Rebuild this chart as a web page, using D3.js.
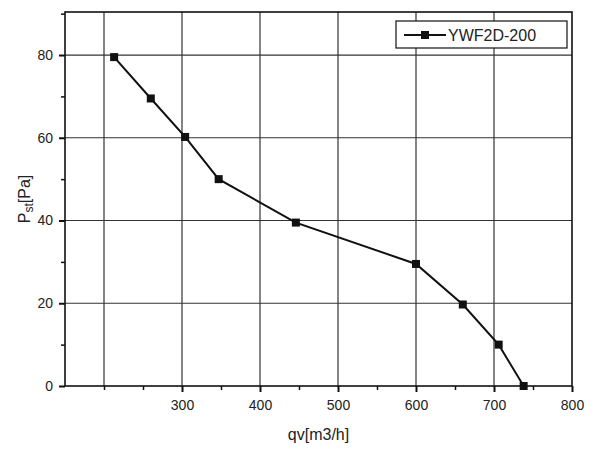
<!DOCTYPE html>
<html><head><meta charset="utf-8">
<script src="https://cdn.jsdelivr.net/npm/d3@7"></script>
<style>body{margin:0;background:#fff}text{font-family:Arial,"Liberation Sans",sans-serif;fill:#222}</style>
</head><body><svg id="c" width="598" height="450"></svg>
<script>
const qv = [213, 260, 304, 347, 446, 600, 660, 706, 738];
const pst = [79.5, 69.5, 60.2, 50, 39.5, 29.5, 19.7, 10, 0];
const xTicks = [300, 400, 500, 600, 700, 800];
const yTicks = [0, 20, 40, 60, 80];
const seriesName = "YWF2D-200";

const svg = d3.select("#c");
const L=65,R=572,T=12,B=386;
const x = d3.scaleLinear().domain([150,800]).range([L,R]);
const y = d3.scaleLinear().domain([0,90.4]).range([B,T]);

const gx=[200,300,400,500,600,700];
svg.selectAll(".gx").data(gx).enter().append("line")
 .attr("x1",d=>x(d)).attr("x2",d=>x(d)).attr("y1",T).attr("y2",B).attr("stroke","#333").attr("stroke-width",1.2);
svg.selectAll(".gy").data([20,40,60,80]).enter().append("line")
 .attr("x1",L).attr("x2",R).attr("y1",d=>y(d)).attr("y2",d=>y(d)).attr("stroke","#333").attr("stroke-width",1.2);

svg.append("rect").attr("x",L).attr("y",T).attr("width",R-L).attr("height",B-T)
 .attr("fill","none").attr("stroke","#111").attr("stroke-width",1.6);

const xa = svg.append("g").attr("transform",`translate(0,${B})`)
 .call(d3.axisBottom(x).tickValues(xTicks).tickSize(6).tickPadding(8).tickFormat(d3.format("d")));
xa.select(".domain").remove();
xa.selectAll("line").attr("stroke","#111").attr("stroke-width",2);
xa.selectAll("text").attr("font-size",14);
svg.append("g").attr("transform",`translate(0,${B})`)
 .call(d3.axisBottom(x).tickValues([200,250,350,450,550,650,750]).tickSize(4).tickFormat(""))
 .call(g=>{g.select(".domain").remove();g.selectAll("line").attr("stroke","#111").attr("stroke-width",1.5);});

const ya = svg.append("g").attr("transform",`translate(${L},0)`)
 .call(d3.axisLeft(y).tickValues(yTicks).tickSize(6).tickPadding(6).tickFormat(d3.format("d")));
ya.select(".domain").remove();
ya.selectAll("line").attr("stroke","#111").attr("stroke-width",2);
ya.selectAll("text").attr("font-size",14);
svg.append("g").attr("transform",`translate(${L},0)`)
 .call(d3.axisLeft(y).tickValues([10,30,50,70,90]).tickSize(4).tickFormat(""))
 .call(g=>{g.select(".domain").remove();g.selectAll("line").attr("stroke","#111").attr("stroke-width",1.5);});

svg.append("text").attr("x",(L+R)/2).attr("y",440).attr("text-anchor","middle").attr("font-size",16).text("qv[m3/h]");
const yl = svg.append("text").attr("transform",`translate(30,${(T+B)/2}) rotate(-90)`).attr("text-anchor","middle").attr("font-size",16);
yl.append("tspan").text("P");
yl.append("tspan").attr("font-size",12).attr("dy",3).text("st");
yl.append("tspan").attr("dy",-3).text("[Pa]");

const data = qv.map((d,i)=>[d,pst[i]]);
svg.append("path").datum(data).attr("fill","none").attr("stroke","#111").attr("stroke-width",2)
 .attr("d",d3.line().x(d=>x(d[0])).y(d=>y(d[1])));
svg.selectAll(".pt").data(data).enter().append("rect")
 .attr("x",d=>x(d[0])-4).attr("y",d=>y(d[1])-4).attr("width",8).attr("height",8).attr("fill","#111");

svg.append("rect").attr("x",396).attr("y",21).attr("width",171).attr("height",27).attr("fill","#fff").attr("stroke","#111").attr("stroke-width",1.2);
svg.append("line").attr("x1",404).attr("x2",446).attr("y1",35).attr("y2",35).attr("stroke","#111").attr("stroke-width",2);
svg.append("rect").attr("x",421).attr("y",31).attr("width",8).attr("height",8).attr("fill","#111");
svg.append("text").attr("x",448).attr("y",41).attr("font-size",16).text(seriesName);
</script></body></html>
